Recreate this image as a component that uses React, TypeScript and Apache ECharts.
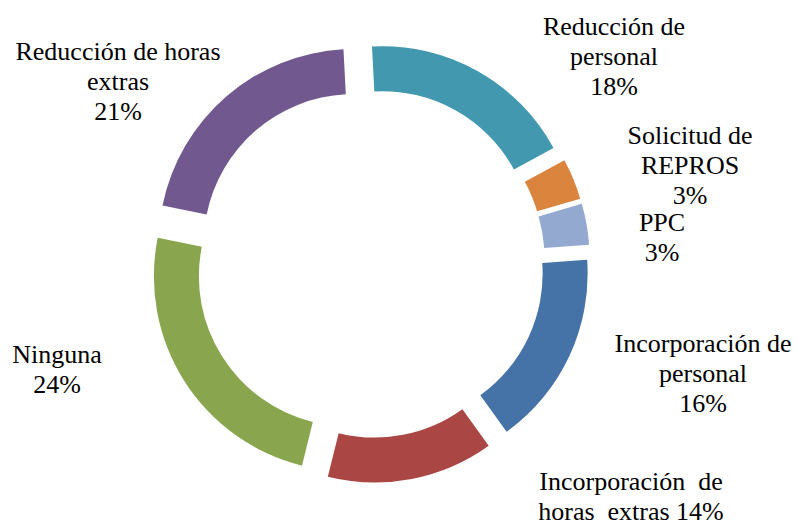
import React, { useEffect, useRef } from "react";
import * as echarts from "echarts";

const categories = [
  "Reducción de\npersonal",
  "Solicitud de\nREPROS",
  "PPC",
  "Incorporación de\npersonal",
  "Incorporación  de\nhoras  extras",
  "Ninguna",
  "Reducción de horas\nextras",
];
const values = [17.9, 3.4, 3.4, 16.2, 13.8, 24.3, 21.0];
const colors = ["#4198AF", "#DB843D", "#93A9CF", "#4572A7", "#AA4643", "#89A54E", "#71588F"];
const labelSep = ["\n", "\n", "\n", "\n", " ", "\n", "\n"];
const labelPos: [number, number][] = [
  [614, 56],
  [690, 165],
  [662, 237],
  [703, 373],
  [631, 496],
  [57, 369],
  [118, 81],
];

export default function App() {
  const ref = useRef<HTMLDivElement>(null);
  useEffect(() => {
    if (!ref.current) return;
    const chart = echarts.init(ref.current, null, { renderer: "svg" });
    const labels = values.map((v, i) => ({
      type: "text",
      x: labelPos[i][0],
      y: labelPos[i][1],
      silent: true,
      style: {
        text: `${categories[i]}${labelSep[i]}${Math.round(v)}%`,
        fontFamily: "Liberation Serif",
        fontSize: 26,
        lineHeight: 30,
        fill: "#000000",
        align: "center",
        verticalAlign: "middle",
      },
    }));
    chart.setOption({
      animation: false,
      backgroundColor: "#ffffff",
      graphic: { elements: labels },
      series: [
        {
          type: "pie",
          center: [370, 263],
          radius: [150, 195],
          startAngle: 93,
          clockwise: true,
          selectedMode: "multiple",
          selectedOffset: 25,
          avoidLabelOverlap: false,
          emphasis: { disabled: true },
          label: { show: false },
          labelLine: { show: false },
          data: values.map((v, i) => ({
            name: categories[i],
            value: v,
            selected: true,
            itemStyle: { color: colors[i] },
          })),
        },
      ],
    });
    return () => chart.dispose();
  }, []);
  return (
    <div
      ref={ref}
      style={{ position: "absolute", left: 0, top: 0, width: 798, height: 522 }}
    />
  );
}
